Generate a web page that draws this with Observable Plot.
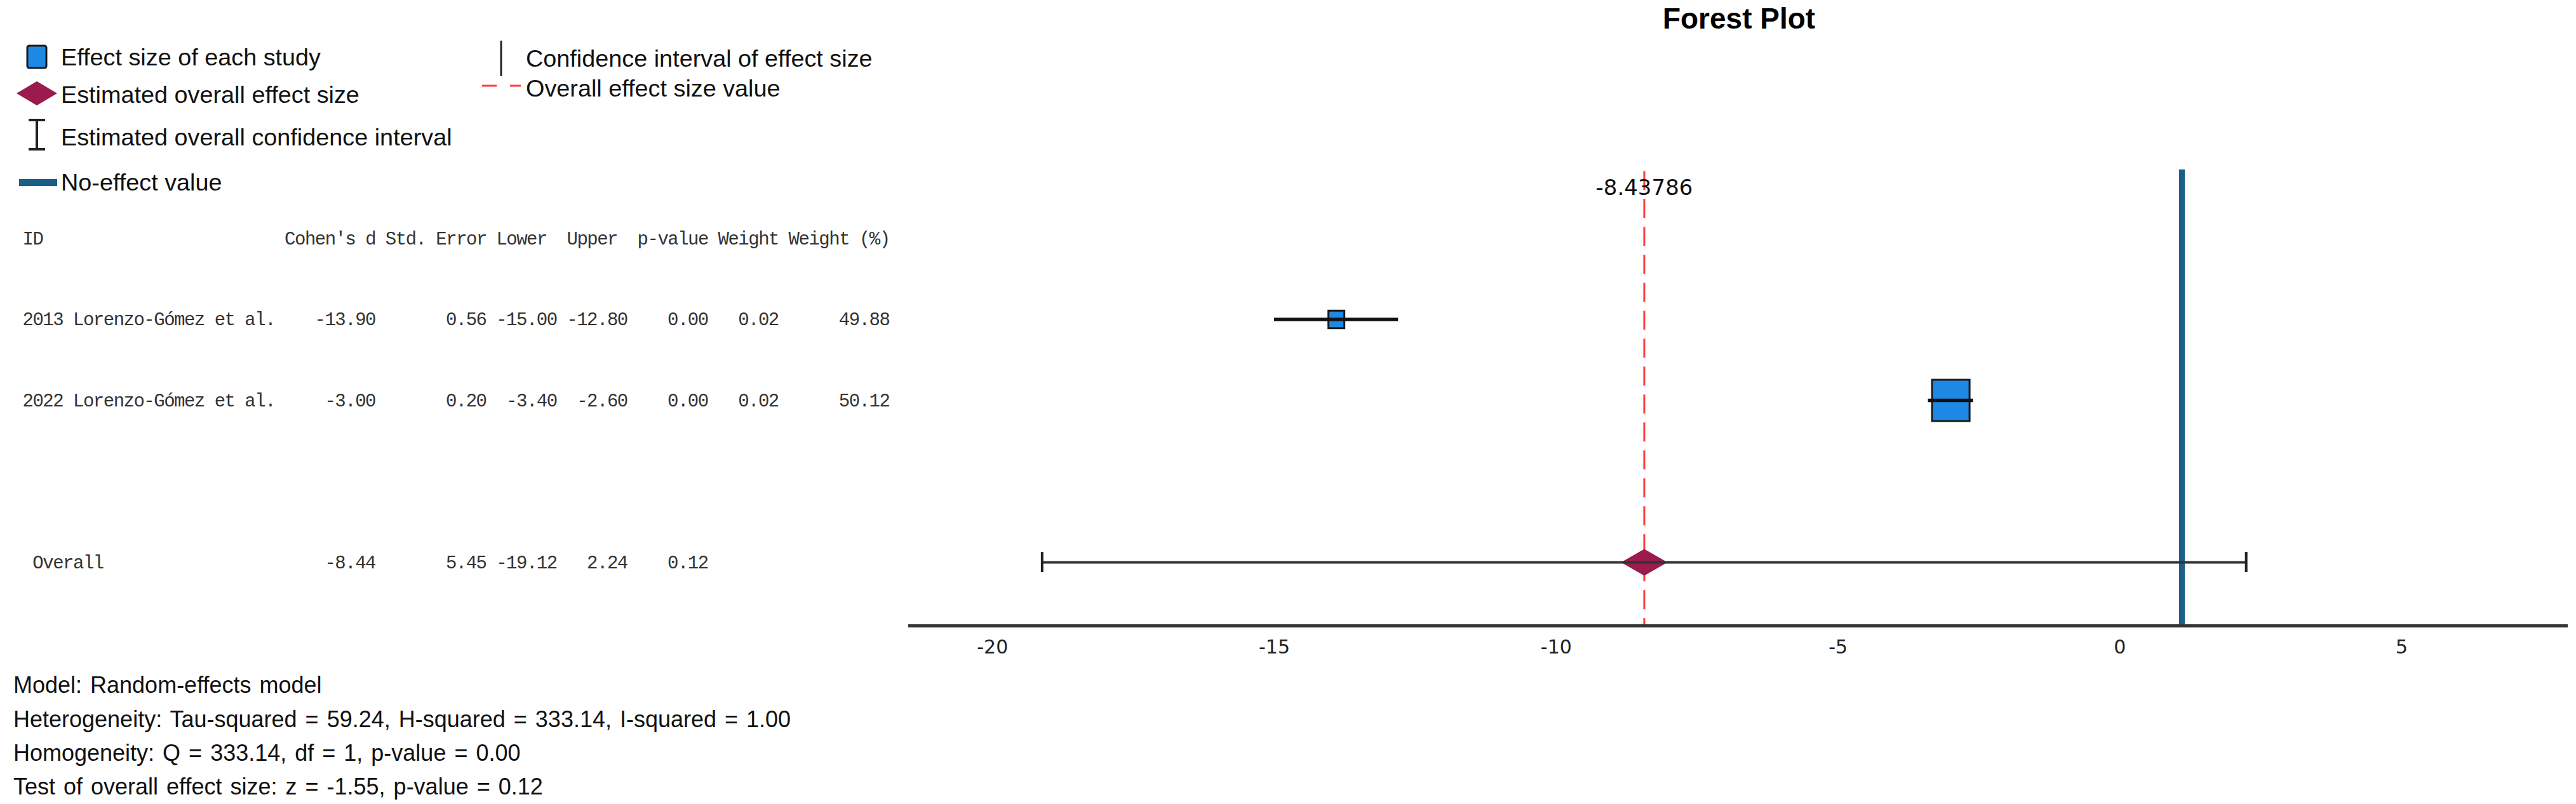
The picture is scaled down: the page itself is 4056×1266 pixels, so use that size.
<!DOCTYPE html>
<html><head><meta charset="utf-8">
<script src="https://cdn.jsdelivr.net/npm/d3@7"></script>
<script src="https://cdn.jsdelivr.net/npm/@observablehq/plot@0.6"></script>
<style>
html,body{margin:0;padding:0;background:#fff;overflow:hidden}
#root{position:relative;width:4056px;height:1266px;background:#fff}
.abs{position:absolute;white-space:nowrap}
.leg{font-family:"Liberation Sans",Arial,sans-serif;font-size:37.8px;line-height:38px;color:#111}
.cap{font-family:"Liberation Sans",Arial,sans-serif;font-size:36px;line-height:36px;word-spacing:3px;color:#111}
.title{font-family:"Liberation Sans",Arial,sans-serif;font-weight:bold;font-size:46px;line-height:46px;color:#000;transform:translateX(-50%)}
#root > svg, #root > figure{position:absolute;left:0;top:0;margin:0}
</style></head><body><div id="root"></div>
<script>
// ---- data ----
const studies = ["2013 Lorenzo-Gómez et al.", "2022 Lorenzo-Gómez et al."];
const cohensD = [-13.90, -3.00];
const stdErr = [0.56, 0.20];
const lowerCI = [-15.00, -3.40];
const upperCI = [-12.80, -2.60];
const pValues = [0.00, 0.00];
const weights = [0.02, 0.02];
const weightPct = [49.88, 50.12];
const overallLabel = "Overall";
const overallD = -8.43786;
const overallSE = 5.45;
const overallLower = -19.12;
const overallUpper = 2.24;
const overallP = 0.12;
const noEffect = 1.1;
const xTicks = [-20, -15, -10, -5, 0, 5];
const tableHeaders = ["Cohen's d", "Std. Error", "Lower", "Upper", "p-value", "Weight", "Weight (%)"];
const legendItems = ["Effect size of each study", "Estimated overall effect size", "Estimated overall confidence interval", "No-effect value", "Confidence interval of effect size", "Overall effect size value"];
const statsLines = [
  "Model: Random-effects model",
  "Heterogeneity: Tau-squared = 59.24, H-squared = 333.14, I-squared = 1.00",
  "Homogeneity: Q = 333.14, df = 1, p-value = 0.00",
  "Test of overall effect size: z = -1.55, p-value = 0.12"
];
const titleText = "Forest Plot";

// ---- derived rows ----
const rows = studies.map((s, i) => ({
  id: s, row: i + 1, d: cohensD[i], se: stdErr[i], lower: lowerCI[i], upper: upperCI[i],
  p: pValues[i], w: weights[i], wp: weightPct[i], prec: 1 / stdErr[i]
}));
const overallRow = {id: overallLabel, row: 4, d: overallD, se: overallSE, lower: overallLower, upper: overallUpper, p: overallP};

// ---- shared layout ----
const W = 4056, H = 1266;
const yDomain = [-0.9, 4.784];
const yRange = [260.25, 985];
const axisRow = yDomain[1];

const root = document.getElementById("root");

// ---- table (monospace columns, character units) ----
const colStart = [26, 36, 47, 54, 61, 69, 76];
const colEnd = [35, 46, 53, 60, 68, 75, 86];
const cells = [];
for (const r of rows) {
  [r.d, r.se, r.lower, r.upper, r.p, r.w, r.wp].forEach((v, k) => cells.push({row: r.row, col: k, text: v.toFixed(2)}));
}
[overallRow.d, overallRow.se, overallRow.lower, overallRow.upper, overallRow.p].forEach((v, k) => cells.push({row: overallRow.row, col: k, text: v.toFixed(2)}));
const headerCells = tableHeaders.map((h, k) => ({row: 0, col: k, text: h}));
const idCells = [{row: 0, x: 0, text: "ID"}, ...rows.map(r => ({row: r.row, x: 0, text: r.id})), {row: overallRow.row, x: 1, text: overallRow.id}];

const table = Plot.plot({
  width: W, height: H,
  marginLeft: 0, marginRight: 0, marginTop: 0, marginBottom: 0,
  x: {domain: [0, 88], range: [35, 35 + 88 * 15.87], axis: null},
  y: {domain: yDomain, range: yRange, axis: null},
  style: {background: "transparent", fontFamily: "'Liberation Mono', monospace", fontSize: "29px", letterSpacing: "-1.5px", color: "#333"},
  marks: [
    Plot.text(idCells, {x: "x", y: "row", text: "text", textAnchor: "start", fill: "#333"}),
    Plot.text(headerCells, {x: d => colStart[d.col], y: "row", text: "text", textAnchor: "start", fill: "#333"}),
    Plot.text(cells, {x: d => colEnd[d.col], y: "row", text: "text", textAnchor: "end", fill: "#333"})
  ]
});
root.appendChild(table);

// ---- forest plot ----
const squareSym = {draw(ctx, size) { const r = Math.sqrt(size / Math.PI); const w = r, h = r * 1.1;
  ctx.moveTo(-w, -h); ctx.lineTo(w, -h); ctx.lineTo(w, h); ctx.lineTo(-w, h); ctx.closePath(); }};
const diamondSym = {draw(ctx, size) { const r = Math.sqrt(size / Math.PI); const w = r * 1.74;
  ctx.moveTo(-w, 0); ctx.lineTo(0, -r); ctx.lineTo(w, 0); ctx.lineTo(0, r); ctx.closePath(); }};
const capHalf = 16 / 127.5;

const forest = Plot.plot({
  width: W, height: H,
  marginLeft: 1430, marginRight: 13, marginTop: 260, marginBottom: 281,
  x: {domain: [-21.49, 7.95], ticks: xTicks, tickSize: 0, tickPadding: 22, tickFormat: d => String(d), label: null},
  y: {domain: yDomain, range: yRange, axis: null},
  r: {type: "linear", domain: d3.extent(rows, d => d.prec), range: [12.5, 29.5]},
  style: {background: "transparent", fontFamily: "'DejaVu Sans', sans-serif", fontSize: "30px", color: "#222"},
  marks: [
    Plot.ruleX([noEffect], {x: d => d, y1: -0.85, y2: axisRow, stroke: "#1b5e87", strokeWidth: 9}),
    Plot.ruleX([overallD], {x: d => d, y1: -0.83, y2: axisRow, stroke: "#ff3b3b", strokeWidth: 3, strokeDasharray: "30,14"}),
    Plot.ruleY([axisRow], {y: d => d, stroke: "#333", strokeWidth: 5}),
    Plot.dot(rows, {x: "d", y: "row", r: "prec", symbol: squareSym, fill: "#1e88e5", stroke: "#1a1a1a", strokeWidth: 3, fillOpacity: 1}),
    Plot.ruleY(rows, {x1: "lower", x2: "upper", y: "row", stroke: "#111", strokeWidth: 5.5}),
    Plot.dot([overallRow], {x: "d", y: "row", r: 21, symbol: diamondSym, fill: "#9c1b4f", stroke: "none"}),
    Plot.ruleY([overallRow], {x1: "lower", x2: "upper", y: "row", stroke: "#333", strokeWidth: 4}),
    Plot.ruleX([overallRow.lower, overallRow.upper], {x: d => d, y1: overallRow.row - capHalf, y2: overallRow.row + capHalf, stroke: "#222", strokeWidth: 4}),
    Plot.text([overallD], {x: d => d, y: -0.62, text: d => d.toFixed(5), fontSize: 34, fill: "#111"})
  ]
});
root.appendChild(forest);

// ---- title ----
const t = document.createElement("div");
t.className = "abs title"; t.style.left = "2738px"; t.style.top = "6px"; t.textContent = titleText;
root.appendChild(t);

// ---- legend ----
const legPos = [[96, 71], [96, 130], [96, 197], [96, 268], [828, 73], [828, 120]];
legendItems.forEach((txt, i) => {
  const el = document.createElement("div");
  el.className = "abs leg"; el.style.left = legPos[i][0] + "px"; el.style.top = legPos[i][1] + "px"; el.textContent = txt;
  root.appendChild(el);
});
const ns = "http://www.w3.org/2000/svg";
const icons = document.createElementNS(ns, "svg");
icons.setAttribute("width", 900); icons.setAttribute("height", 320);
icons.setAttribute("style", "position:absolute;left:0;top:0");
icons.innerHTML = `
  <rect x="43" y="72" width="30" height="35" rx="3" fill="#1e88e5" stroke="#1a1a1a" stroke-width="3"/>
  <polygon points="26,147 58,128 90,147 58,166" fill="#9c1b4f"/>
  <g stroke="#222" stroke-width="4"><line x1="58" y1="189" x2="58" y2="235"/><line x1="45" y1="189" x2="71" y2="189"/><line x1="45" y1="235" x2="71" y2="235"/></g>
  <rect x="30" y="282" width="60" height="11" fill="#1b5e87"/>
  <line x1="789" y1="64" x2="789" y2="120" stroke="#222" stroke-width="3"/>
  <g stroke="#ff3b3b" stroke-width="3"><line x1="759" y1="135" x2="782" y2="135"/><line x1="803" y1="135" x2="820" y2="135"/></g>`;
root.appendChild(icons);

// ---- stats caption ----
const capTops = [1061, 1115, 1168, 1221];
statsLines.forEach((txt, i) => {
  const el = document.createElement("div");
  el.className = "abs cap"; el.style.left = "21px"; el.style.top = capTops[i] + "px"; el.textContent = txt;
  root.appendChild(el);
});
</script></body></html>
